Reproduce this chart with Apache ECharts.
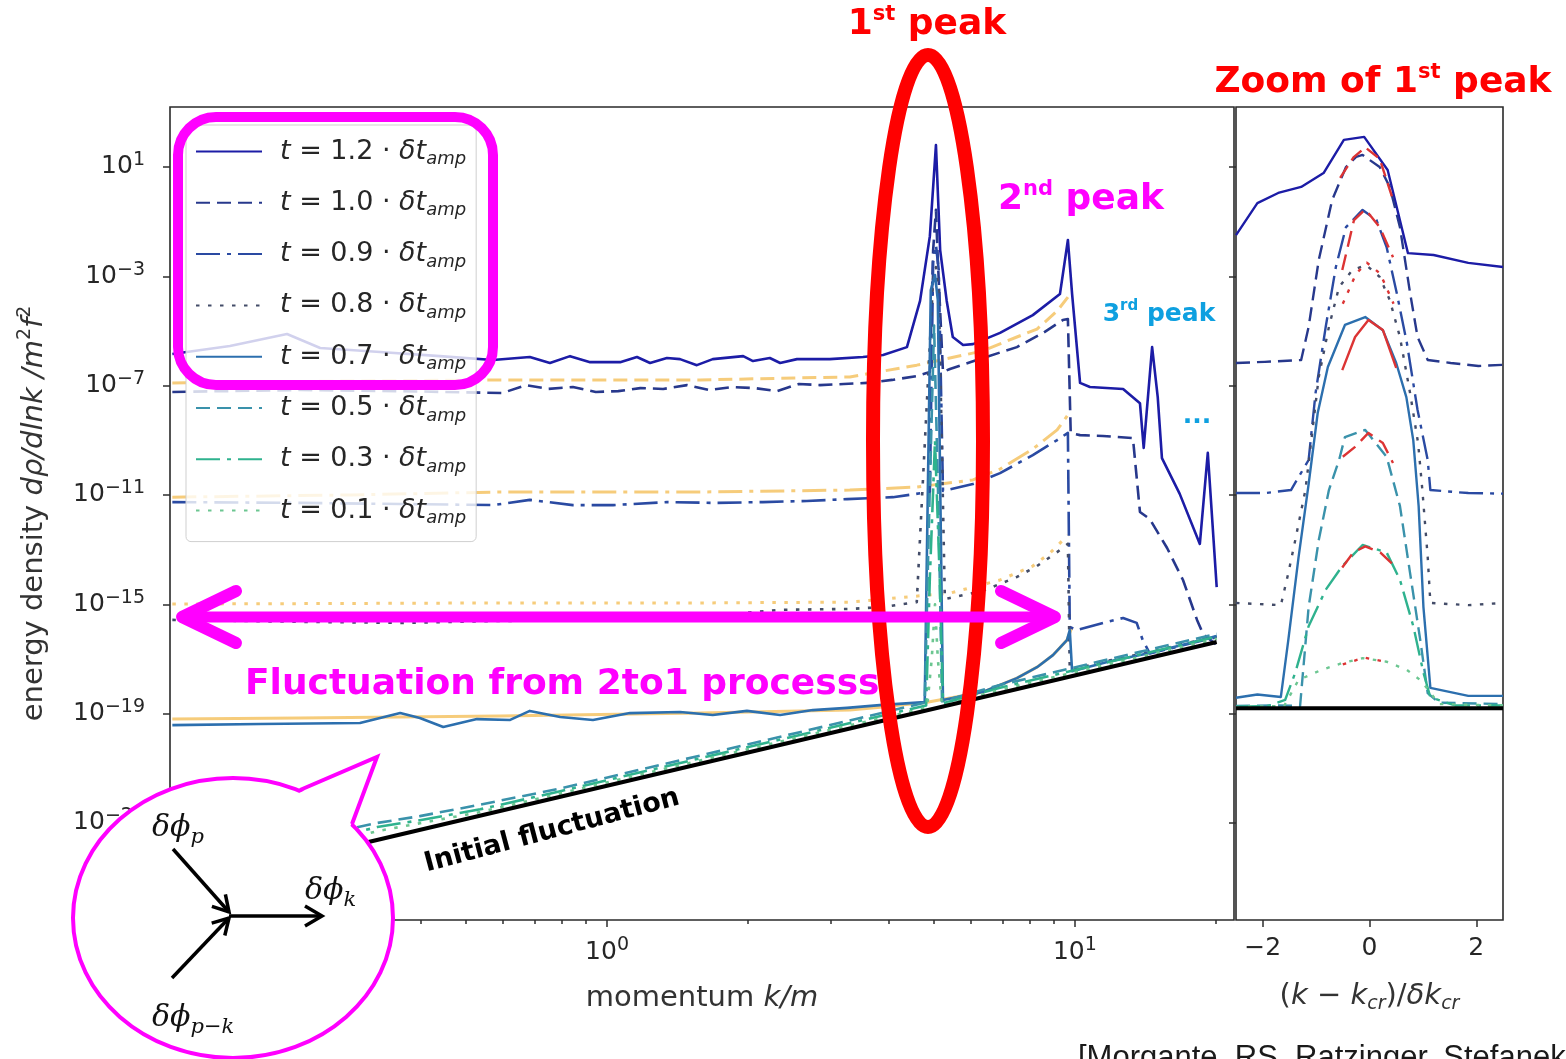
<!DOCTYPE html>
<html>
<head>
<meta charset="utf-8">
<script src="https://cdn.jsdelivr.net/npm/echarts@6/dist/echarts.min.js"></script>
<style>
  html, body { margin: 0; padding: 0; background: #ffffff; }
  #chart { width: 1566px; height: 1059px; }
</style>
</head>
<body>
<div id="chart"></div>
<script>
// ---------------------------------------------------------------------------
// Spectra dρ/dlnk (in units of m²f²) at several times t / δt_amp.
// Main panel points are [log10(k/m), log10(dρ/dlnk)].
// Zoom panel points are [(k - k_cr)/δk_cr, log10(dρ/dlnk)].
// ---------------------------------------------------------------------------
const times = ['1.2', '1.0', '0.9', '0.8', '0.7', '0.5', '0.3', '0.1'];

const main12 = [[-0.929,-5.84],[-0.806,-5.55],[-0.684,-5.11],[-0.613,-5.62],[-0.485,-5.77],[-0.357,-5.92],[-0.244,-6.06],[-0.165,-5.95],[-0.122,-6.17],[-0.079,-5.92],[-0.036,-6.14],[0.028,-6.14],[0.064,-5.95],[0.092,-6.17],[0.128,-5.99],[0.156,-6.03],[0.192,-6.25],[0.226,-6.03],[0.291,-5.92],[0.312,-6.10],[0.348,-5.99],[0.370,-6.17],[0.406,-6.03],[0.476,-6.03],[0.547,-5.95],[0.590,-5.88],[0.641,-5.59],[0.669,-3.90],[0.690,-1.53],[0.703,1.80],[0.712,-2.04],[0.726,-3.90],[0.739,-5.22],[0.761,-5.51],[0.782,-5.48],[0.840,-5.07],[0.910,-4.42],[0.968,-3.65],[0.985,-1.67],[0.994,-3.65],[1.011,-6.90],[1.032,-7.05],[1.103,-7.12],[1.139,-7.64],[1.147,-9.28],[1.165,-5.59],[1.177,-7.42],[1.186,-9.65],[1.224,-10.96],[1.267,-12.79],[1.284,-9.46],[1.303,-14.37]];
const main10 = [[-0.929,-7.23],[-0.656,-7.16],[-0.442,-7.20],[-0.224,-7.27],[-0.173,-6.98],[-0.126,-7.12],[-0.073,-7.05],[-0.024,-7.23],[0.024,-7.20],[0.071,-7.09],[0.120,-7.12],[0.171,-6.98],[0.218,-7.16],[0.267,-7.05],[0.316,-7.09],[0.363,-7.20],[0.410,-6.94],[0.455,-6.98],[0.506,-6.94],[0.556,-6.90],[0.609,-6.79],[0.662,-6.65],[0.690,-6.50],[0.697,-2.04],[0.703,-0.57],[0.707,-2.40],[0.718,-6.50],[0.733,-6.39],[0.803,-5.99],[0.876,-5.59],[0.932,-5.07],[0.974,-4.60],[0.985,-4.56],[0.991,-8.73],[1.011,-8.81],[1.060,-8.84],[1.124,-8.92],[1.139,-11.62],[1.160,-11.88],[1.197,-12.94],[1.231,-14.11],[1.261,-15.57],[1.274,-16.09],[1.303,-16.49]];
const main09 = [[-0.929,-11.26],[-0.656,-11.29],[-0.442,-11.33],[-0.244,-11.37],[-0.165,-11.18],[-0.073,-11.37],[0.013,-11.37],[0.128,-11.26],[0.226,-11.29],[0.333,-11.26],[0.427,-11.22],[0.513,-11.15],[0.611,-11.08],[0.690,-10.89],[0.697,-2.48],[0.703,-1.85],[0.709,-2.77],[0.718,-10.85],[0.782,-10.60],[0.840,-10.20],[0.910,-9.54],[0.962,-8.99],[0.985,-8.73],[0.989,-15.83],[1.004,-15.94],[1.060,-15.68],[1.103,-15.50],[1.132,-15.68],[1.145,-16.31],[1.160,-16.80],[1.231,-16.50],[1.303,-16.20]];
const main08 = [[-0.929,-15.57],[-0.656,-15.64],[-0.442,-15.68],[-0.229,-15.61],[-0.015,-15.57],[0.199,-15.46],[0.370,-15.20],[0.519,-15.17],[0.590,-15.10],[0.662,-14.92],[0.697,-3.09],[0.703,-2.66],[0.709,-3.46],[0.722,-14.81],[0.733,-14.77],[0.803,-14.51],[0.876,-14.00],[0.919,-13.60],[0.962,-13.09],[0.985,-12.79],[0.989,-17.40],[1.075,-17.05],[1.160,-16.75],[1.231,-16.45],[1.303,-16.18]];
const main07 = [[-0.929,-19.42],[-0.741,-19.38],[-0.528,-19.34],[-0.442,-18.98],[-0.400,-19.16],[-0.350,-19.49],[-0.278,-19.20],[-0.207,-19.23],[-0.165,-18.90],[-0.100,-19.12],[-0.030,-19.23],[0.049,-18.98],[0.156,-18.94],[0.226,-19.05],[0.299,-18.90],[0.370,-19.05],[0.440,-18.87],[0.513,-18.79],[0.583,-18.69],[0.679,-18.58],[0.692,-3.50],[0.701,-2.95],[0.707,-3.86],[0.718,-18.50],[0.803,-18.21],[0.876,-17.70],[0.919,-17.30],[0.953,-16.86],[0.983,-16.31],[0.989,-15.94],[0.994,-17.45],[1.075,-17.08],[1.160,-16.78],[1.231,-16.48],[1.303,-16.16]];
const main05 = [[-0.929,-24.6],[-0.656,-23.6],[-0.491,-23.0],[-0.400,-22.75],[-0.271,-22.33],[-0.100,-21.74],[0.113,-20.88],[0.327,-20.02],[0.541,-19.16],[0.679,-18.6],[0.688,-12.0],[0.699,-4.8],[0.709,-12.0],[0.716,-18.55],[0.840,-17.95],[0.989,-17.35],[1.139,-16.74],[1.303,-16.08]];
const main03 = [[-0.929,-24.9],[-0.656,-23.85],[-0.491,-23.15],[-0.400,-22.9],[-0.271,-22.5],[-0.100,-21.84],[0.113,-20.98],[0.327,-20.12],[0.541,-19.26],[0.682,-18.7],[0.690,-14.0],[0.701,-9.0],[0.711,-14.0],[0.718,-18.62],[0.840,-18.05],[0.989,-17.45],[1.139,-16.84],[1.303,-16.18]];
const main01 = [[-0.929,-25.1],[-0.656,-24.0],[-0.491,-23.3],[-0.271,-22.6],[-0.100,-21.92],[0.113,-21.06],[0.327,-20.2],[0.541,-19.34],[0.684,-18.78],[0.694,-17.0],[0.701,-15.0],[0.707,-17.0],[0.716,-18.7],[0.840,-18.13],[0.989,-17.53],[1.139,-16.92],[1.303,-16.26]];

// Analytic estimate of the 2→1 contribution (one curve per time, same line style)
const fit10 = [[-0.929,-6.90],[-0.549,-6.83],[-0.229,-6.79],[0.199,-6.79],[0.519,-6.68],[0.662,-6.25],[0.803,-5.73],[0.876,-5.22],[0.919,-4.93],[0.962,-4.27],[0.985,-3.76]];
const fit09 = [[-0.929,-11.08],[-0.549,-11.0],[-0.229,-10.89],[0.199,-10.89],[0.519,-10.82],[0.662,-10.71],[0.782,-10.45],[0.840,-10.05],[0.910,-9.32],[0.962,-8.62],[0.985,-8.07]];
const fit08 = [[-0.929,-14.99],[-0.229,-14.95],[0.199,-14.95],[0.519,-14.92],[0.733,-14.59],[0.840,-14.11],[0.910,-13.60],[0.947,-13.12],[0.985,-12.47]];
const fit07 = [[-0.929,-19.20],[-0.656,-19.16],[-0.229,-19.09],[0.199,-18.98],[0.519,-18.87],[0.590,-18.76],[0.684,-18.58],[0.803,-18.21],[0.876,-17.70],[0.919,-17.30],[0.953,-16.86],[0.983,-16.31],[0.994,-15.83]];

// Initial vacuum fluctuation
const initialMain = [[-0.929,-25.39],[1.303,-16.38]];

// Zoom on the first peak
const zoom12 = [[-2.5,-1.49],[-2.10,-0.32],[-1.71,0.05],[-1.28,0.27],[-0.86,0.78],[-0.48,1.99],[-0.10,2.10],[0.34,0.89],[0.72,-2.15],[1.20,-2.22],[1.85,-2.51],[2.5,-2.66]];
const zoom10 = [[-2.5,-6.17],[-1.96,-6.13],[-1.28,-6.06],[-1.14,-4.85],[-0.95,-2.40],[-0.70,-0.21],[-0.44,1.0],[-0.25,1.37],[-0.13,1.44],[0.19,1.0],[0.38,0.27],[0.57,-1.20],[0.76,-3.61],[0.90,-5.22],[1.09,-6.06],[1.52,-6.17],[2.04,-6.28],[2.5,-6.24]];
const zoom09 = [[-2.5,-10.93],[-1.96,-10.93],[-1.47,-10.82],[-1.14,-9.72],[-1.01,-7.27],[-0.82,-4.85],[-0.63,-2.66],[-0.44,-1.20],[-0.13,-0.57],[0.13,-0.94],[0.32,-1.93],[0.51,-3.61],[0.70,-5.44],[0.90,-7.89],[1.09,-9.72],[1.14,-10.82],[1.85,-10.93],[2.5,-10.95]];
const zoom08 = [[-2.5,-14.95],[-1.66,-15.03],[-1.52,-13.86],[-1.39,-12.65],[-1.2,-10.82],[-0.95,-6.68],[-0.76,-4.85],[-0.57,-3.39],[-0.32,-2.77],[-0.06,-2.59],[0.19,-3.02],[0.38,-3.87],[0.57,-5.22],[0.76,-7.27],[0.91,-9.1],[0.99,-10.82],[1.09,-13.27],[1.14,-14.95],[1.85,-15.03],[2.5,-14.95]];
const zoom07 = [[-2.5,-18.42],[-2.1,-18.3],[-1.66,-18.39],[-1.52,-16.3],[-1.33,-13.3],[-1.14,-10.6],[-0.97,-8.0],[-0.78,-6.32],[-0.46,-4.78],[-0.08,-4.49],[0.25,-4.97],[0.50,-6.17],[0.69,-7.42],[0.82,-9.0],[0.92,-11.4],[1.01,-15.1],[1.14,-18.06],[1.85,-18.35],[2.5,-18.35]];
const zoom05 = [[-2.5,-18.72],[-1.8,-18.7],[-1.3,-18.72],[-1.14,-15.1],[-0.95,-12.65],[-0.76,-10.82],[-0.57,-9.72],[-0.46,-8.88],[-0.08,-8.62],[0.32,-9.6],[0.57,-11.4],[0.76,-13.86],[0.95,-16.3],[1.09,-18.25],[1.3,-18.6],[2.5,-18.65]];
const zoom03 = [[-2.5,-18.75],[-1.9,-18.72],[-1.58,-18.5],[-1.39,-17.5],[-1.14,-15.8],[-0.82,-14.47],[-0.51,-13.6],[-0.13,-12.83],[0.32,-13.1],[0.57,-14.1],[0.82,-15.8],[1.01,-17.5],[1.14,-18.4],[1.6,-18.7],[2.5,-18.7]];
const zoom01 = [[-2.5,-18.76],[-1.6,-18.72],[-1.33,-17.77],[-0.9,-17.4],[-0.51,-17.15],[-0.13,-16.97],[0.32,-17.1],[0.7,-17.4],[0.95,-17.77],[1.09,-18.1],[1.3,-18.65],[2.5,-18.7]];
const zoomInitial = [[-2.5,-18.8],[2.5,-18.8]];

// Analytic estimate around the peak
const zfit10 = [[-0.55,0.6],[-0.3,1.35],[-0.08,1.72],[0.19,1.3],[0.44,-0.2]];
const zfit09 = [[-0.51,-2.77],[-0.29,-0.94],[-0.08,-0.55],[0.19,-1.2],[0.44,-2.3]];
const zfit08 = [[-0.5,-4.0],[-0.25,-2.9],[-0.05,-2.5],[0.2,-2.9],[0.45,-4.0]];
const zfit07 = [[-0.51,-6.43],[-0.27,-5.22],[-0.02,-4.6],[0.25,-4.96],[0.5,-6.35]];
const zfit05 = [[-0.5,-9.6],[-0.27,-9.24],[-0.02,-8.73],[0.25,-9.1],[0.44,-9.83]];
const zfit03 = [[-0.51,-13.65],[-0.3,-13.1],[-0.08,-12.88],[0.2,-13.1],[0.5,-13.65]];
const zfit01 = [[-0.5,-17.2],[-0.1,-16.95],[0.3,-17.1]];

// Axis ticks
const yTicks = [1e-23, 1e-19, 1e-15, 1e-11, 1e-7, 1e-3, 1e1];
const kMajor = [1, 10];
const kMinor = [0.2, 0.3, 0.4, 0.5, 0.6, 0.7, 0.8, 0.9, 2, 3, 4, 5, 6, 7, 8, 9, 20];
const zoomTicks = [-2, 0, 2];

// ---------------------------------------------------------------------------
const DASH = [14, 7], DASHDOT = [24, 7, 4, 7], DOT = [3.5, 8.5], LONGDASH = [16, 8];
const style = {
  '1.2': { color: '#1c1ca6', type: 'solid' },
  '1.0': { color: '#27388c', type: DASH },
  '0.9': { color: '#2a4aa2', type: DASHDOT },
  '0.8': { color: '#434c68', type: DOT },
  '0.7': { color: '#2c6fae', type: 'solid' },
  '0.5': { color: '#3a92ab', type: DASH },
  '0.3': { color: '#2fb28e', type: DASHDOT },
  '0.1': { color: '#6cc691', type: DOT }
};
const FIT = 'rgba(242,184,72,0.72)';
const RED = '#dc3434';

const toMain = pts => pts.map(p => [Math.pow(10, p[0]), Math.pow(10, p[1])]);
const toZoom = pts => pts.map(p => [p[0], Math.pow(10, p[1])]);

function line(name, pts, panel, color, type, width, z) {
  return {
    name: name, type: 'line',
    xAxisIndex: panel === 0 ? 0 : 2, yAxisIndex: panel,
    data: panel === 0 ? toMain(pts) : toZoom(pts),
    symbol: 'none', showSymbol: false, silent: true, animation: false, clip: true,
    lineStyle: { color: color, width: width, type: type, cap: 'butt', join: 'round' },
    itemStyle: { color: color },
    z: z
  };
}

const mainData = { '1.2': main12, '1.0': main10, '0.9': main09, '0.8': main08, '0.7': main07, '0.5': main05, '0.3': main03, '0.1': main01 };
const zoomData = { '1.2': zoom12, '1.0': zoom10, '0.9': zoom09, '0.8': zoom08, '0.7': zoom07, '0.5': zoom05, '0.3': zoom03, '0.1': zoom01 };

const series = [];
times.forEach((t, i) => series.push(line(t, mainData[t], 0, style[t].color, style[t].type, 2.6, 3 + i * 0.01)));
[[fit10, DASH], [fit09, DASHDOT], [fit08, DOT], [fit07, 'solid']].forEach((f, i) =>
  series.push(line('fit-' + i, f[0], 0, FIT, f[1], 3, 2)));
series.push(line('initial', initialMain, 0, '#000000', 'solid', 4, 4));
times.forEach((t, i) => series.push(line(t, zoomData[t], 1, style[t].color, style[t].type, 2.4, 3 + i * 0.01)));
[[zfit10, DASH], [zfit09, LONGDASH], [zfit08, DOT], [zfit07, 'solid'], [zfit05, LONGDASH], [zfit03, LONGDASH], [zfit01, DOT]].forEach((f, i) =>
  series.push(line('zfit-' + i, f[0], 1, RED, f[1], 2.4, 3.5)));
series.push(line('initial', zoomInitial, 1, '#000000', 'solid', 4, 4));

// ---------------------------------------------------------------------------
const SANS = 'DejaVu Sans';
const INK = '#262626';
const powLabel = v => {
  const p = Math.round(Math.log10(v));
  return '{b|10}{s|' + (p < 0 ? '\u2212' + (-p) : p) + '}';
};
const powRich = {
  b: { fontFamily: SANS, fontSize: 25, color: INK, lineHeight: 32 },
  s: { fontFamily: SANS, fontSize: 19, color: INK, lineHeight: 20, verticalAlign: 'top' }
};
const tickStyle = { color: '#2e2e2e', width: 1.5 };
const nameRich = {
  n: { fontFamily: SANS, fontSize: 29, color: '#333', lineHeight: 36 },
  i: { fontFamily: SANS, fontStyle: 'italic', fontSize: 29, color: '#333', lineHeight: 36 },
  p: { fontFamily: SANS, fontSize: 19, color: '#333', lineHeight: 19, verticalAlign: 'top' },
  u: { fontFamily: SANS, fontStyle: 'italic', fontSize: 19, color: '#333', lineHeight: 19, verticalAlign: 'bottom' }
};

const Y_MIN = Math.pow(10, -26.55), Y_MAX = Math.pow(10, 3.195);
const K_MIN = Math.pow(10, -0.934), K_MAX = Math.pow(10, 1.340);

const option = {
  backgroundColor: '#ffffff',
  animation: false,
  grid: [
    { left: 170, top: 107, width: 1064, height: 813, show: true, borderColor: '#2a2a2a', borderWidth: 1.6, backgroundColor: 'rgba(0,0,0,0)' },
    { left: 1236, top: 107, width: 267, height: 813, show: true, borderColor: '#2a2a2a', borderWidth: 1.6, backgroundColor: 'rgba(0,0,0,0)' }
  ],
  xAxis: [
    {
      type: 'log', gridIndex: 0, min: K_MIN, max: K_MAX, position: 'bottom',
      axisLine: { show: false, onZero: false }, splitLine: { show: false },
      axisTick: { show: true, customValues: kMajor, length: 7, lineStyle: tickStyle },
      axisLabel: { show: true, customValues: kMajor, margin: 16, formatter: powLabel, rich: powRich },
      name: '{n|momentum }{i|k/m}', nameLocation: 'middle', nameGap: 60,
      nameTextStyle: { rich: nameRich }
    },
    {
      type: 'log', gridIndex: 0, min: K_MIN, max: K_MAX, position: 'bottom',
      axisLine: { show: false, onZero: false }, splitLine: { show: false },
      axisTick: { show: true, customValues: kMinor, length: 4, lineStyle: tickStyle },
      axisLabel: { show: false }
    },
    {
      type: 'value', gridIndex: 1, min: -2.5, max: 2.5, position: 'bottom',
      axisLine: { show: false, onZero: false }, splitLine: { show: false },
      axisTick: { show: true, customValues: zoomTicks, length: 7, lineStyle: tickStyle },
      axisLabel: { show: true, customValues: zoomTicks, margin: 16,
        formatter: v => (v < 0 ? '\u2212' + (-v) : String(v)),
        fontFamily: SANS, fontSize: 25, color: INK },
      name: '{n|(}{i|k}{n| \u2212 }{i|k}{u|cr}{n|)/}{i|\u03b4k}{u|cr}', nameLocation: 'middle', nameGap: 58,
      nameTextStyle: { rich: nameRich }
    }
  ],
  yAxis: [
    {
      type: 'log', gridIndex: 0, min: Y_MIN, max: Y_MAX,
      axisLine: { show: false, onZero: false }, splitLine: { show: false },
      axisTick: { show: true, customValues: yTicks, length: 7, lineStyle: tickStyle },
      axisLabel: { show: true, customValues: yTicks, margin: 25, formatter: powLabel, rich: powRich, align: 'right' },
      name: '{n|energy density }{i|d\u03c1/dlnk /m}{p|2}{i|f}{p|2}', nameLocation: 'middle', nameGap: 118, nameRotate: 90,
      nameTextStyle: { rich: nameRich }
    },
    {
      type: 'log', gridIndex: 1, min: Y_MIN, max: Y_MAX,
      axisLine: { show: false, onZero: false }, splitLine: { show: false },
      axisTick: { show: true, customValues: yTicks, length: 7, lineStyle: tickStyle },
      axisLabel: { show: false }
    }
  ],
  legend: {
    data: times, orient: 'vertical', left: 186, top: 125,
    itemWidth: 66, itemHeight: 14, itemGap: 20.8,
    padding: [13, 10, 14, 9],
    backgroundColor: 'rgba(255,255,255,0.8)', borderColor: '#cfcfcf', borderWidth: 1, borderRadius: 5,
    selectedMode: false,
    itemStyle: { opacity: 0 },
    formatter: n => '{g|}{i|t}{n| = ' + n + ' \u00b7 }{i|\u03b4t}{u|amp}',
    textStyle: { rich: {
      g: { width: 13 },
      i: { fontFamily: SANS, fontStyle: 'italic', fontSize: 27, color: INK, lineHeight: 34 },
      n: { fontFamily: SANS, fontSize: 27, color: INK, lineHeight: 34 },
      u: { fontFamily: SANS, fontStyle: 'italic', fontSize: 18, color: INK, lineHeight: 18, verticalAlign: 'bottom' } } }
  },
  series: series,
  graphic: { elements: annotations() }
};

function label(x, y, rich, text, align, extra) {
  return Object.assign({ type: 'text', z: 100, x: x, y: y,
    style: { text: text, rich: rich, align: align || 'center', verticalAlign: 'middle' } }, extra || {});
}
function boldRich(color, size, supSize) {
  return {
    a: { fontFamily: SANS, fontWeight: 'bold', fontSize: size, fill: color, lineHeight: size + 6 },
    s: { fontFamily: SANS, fontWeight: 'bold', fontSize: supSize, fill: color, lineHeight: supSize + 2, verticalAlign: 'top' }
  };
}
function annotations() {
  const MAG = '#ff00ff', RED_A = '#ff0000', CYAN = '#0ea0e0';
  const phi = {
    m: { fontFamily: 'DejaVu Serif', fontStyle: 'italic', fontSize: 30, fill: '#111', lineHeight: 40 },
    s: { fontFamily: 'DejaVu Serif', fontStyle: 'italic', fontSize: 21, fill: '#111', lineHeight: 21, verticalAlign: 'bottom' }
  };
  const ink = { stroke: '#000', lineWidth: 3.5, fill: 'none', lineCap: 'butt' };
  return [
    // first-peak marker
    { type: 'ellipse', z: 100, shape: { cx: 928, cy: 441, rx: 55, ry: 386 }, style: { fill: 'none', stroke: RED_A, lineWidth: 14 } },
    label(927, 25, boldRich(RED_A, 36, 21), '{a|1}{s|st}{a| peak}'),
    label(1383, 83, boldRich(RED_A, 36, 21), '{a|Zoom of 1}{s|st}{a| peak}'),
    label(1081, 200, boldRich(MAG, 36, 21), '{a|2}{s|nd}{a| peak}'),
    label(1159, 314, boldRich(CYAN, 25, 15), '{a|3}{s|rd}{a| peak}'),
    label(1197, 416, boldRich(CYAN, 25, 15), '{a|...}'),
    // frame around the late-time curves of the legend
    { type: 'rect', z: 100, shape: { x: 178, y: 117, width: 315, height: 268, r: 38 }, style: { fill: 'none', stroke: MAG, lineWidth: 10 } },
    // range of the 2→1 fluctuation
    { type: 'line', z: 100, shape: { x1: 188, y1: 617, x2: 1050, y2: 617 }, style: { stroke: MAG, lineWidth: 11 } },
    { type: 'polyline', z: 100, shape: { points: [[236, 591], [182, 617], [236, 643]] }, style: { stroke: MAG, lineWidth: 12, fill: 'none', lineCap: 'round', lineJoin: 'round' } },
    { type: 'polyline', z: 100, shape: { points: [[1001, 591], [1055, 617], [1001, 643]] }, style: { stroke: MAG, lineWidth: 12, fill: 'none', lineCap: 'round', lineJoin: 'round' } },
    label(245, 685, boldRich(MAG, 36, 21), '{a|Fluctuation from 2to1 processs}', 'left'),
    label(552, 831, boldRich('#000', 27, 16), '{a|Initial fluctuation}', 'center', { rotation: 0.26 }),
    // speech bubble with the 2→1 vertex
    { type: 'ellipse', z: 100, shape: { cx: 233, cy: 918, rx: 160, ry: 140 }, style: { fill: '#ffffff', stroke: MAG, lineWidth: 4 } },
    { type: 'polygon', z: 101, shape: { points: [[299, 793], [377, 757], [350, 827], [322, 820]] }, style: { fill: '#ffffff' } },
    { type: 'polyline', z: 102, shape: { points: [[300, 790], [377, 757], [352, 824]] }, style: { stroke: MAG, lineWidth: 4, fill: 'none', lineJoin: 'miter' } },
    { type: 'line', z: 103, shape: { x1: 173, y1: 849, x2: 229, y2: 912 }, style: ink },
    { type: 'polyline', z: 103, shape: { points: [[225.4, 894.4], [229, 912], [211.9, 906.3]] }, style: ink },
    { type: 'line', z: 103, shape: { x1: 172, y1: 978, x2: 229, y2: 918 }, style: ink },
    { type: 'polyline', z: 103, shape: { points: [[211.7, 923.1], [229, 918], [224.8, 935.5]] }, style: ink },
    { type: 'line', z: 103, shape: { x1: 229, y1: 916, x2: 322, y2: 916 }, style: ink },
    { type: 'polyline', z: 103, shape: { points: [[305, 906], [322, 916], [305, 926]] }, style: ink },
    label(152, 828, phi, '{m|\u03b4\u03d5}{s|p}', 'left', { z: 103 }),
    label(305, 891, phi, '{m|\u03b4\u03d5}{s|k}', 'left', { z: 103 }),
    label(152, 1018, phi, '{m|\u03b4\u03d5}{s|p\u2212k}', 'left', { z: 103 }),
    // reference
    { type: 'text', z: 100, x: 1078, y: 1043, style: { text: '[Morgante, RS, Ratzinger, Stefanek]', fontFamily: 'Liberation Sans', fontSize: 31, fill: '#1a1a1a', align: 'left', verticalAlign: 'top' } }
  ];
}

const chart = echarts.init(document.getElementById('chart'), null, { renderer: 'canvas', width: 1566, height: 1059 });
chart.setOption(option);
</script>
</body>
</html>
